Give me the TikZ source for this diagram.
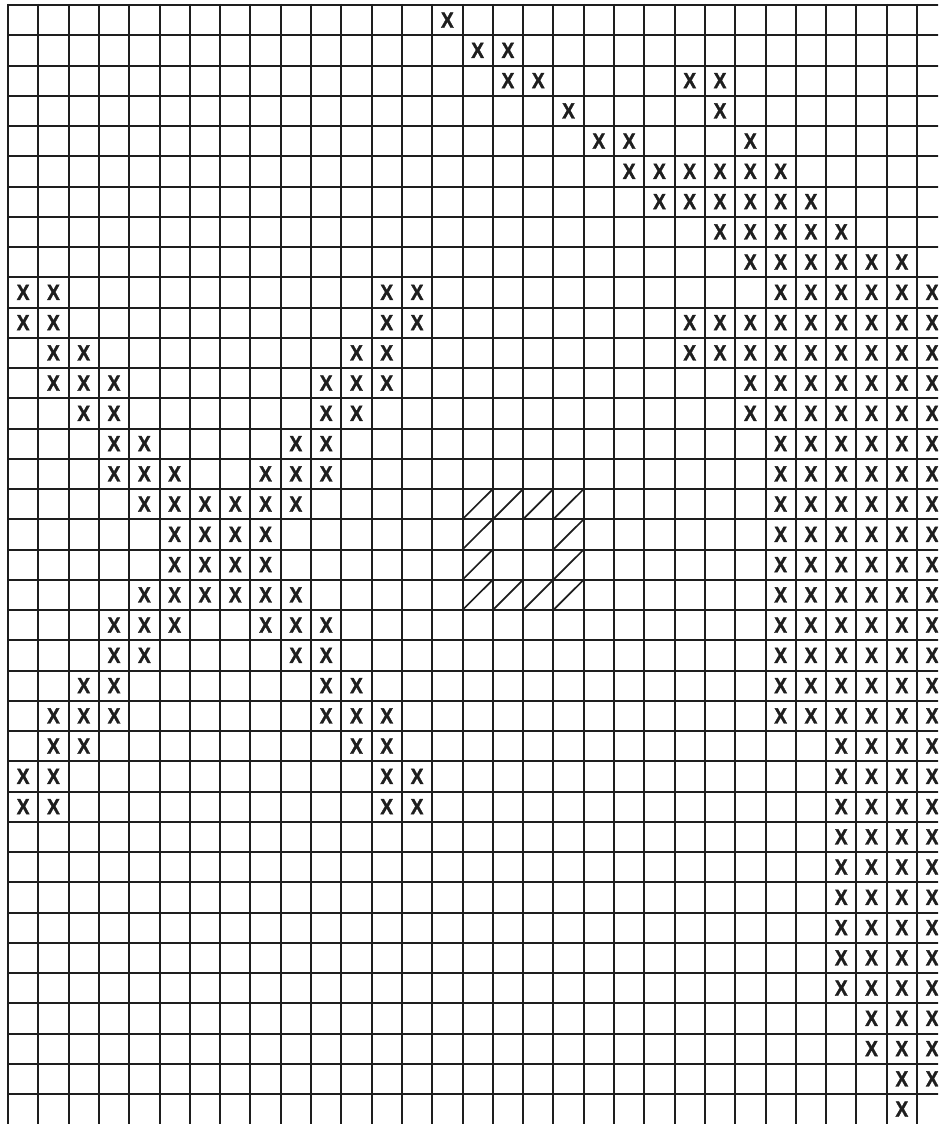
\documentclass[tikz,border=0pt]{standalone}
\usepackage{fontspec}
\newfontfamily\markfont{Liberation Sans Bold}[FakeBold=1.6]
\definecolor{ink}{HTML}{1E1E1E}
\begin{document}
\begin{tikzpicture}[x=1pt,y=-1pt,
  gridline/.style={draw=ink,line width=2pt},
  hatchline/.style={draw=ink,line width=1.7pt},
  xmark/.style={anchor=base,inner sep=0pt,text=ink,font=\markfont\fontsize{22}{22}\selectfont,xscale=0.87}]
\useasboundingbox (0,0) rectangle (938,1124);
\clip (0,0) rectangle (938,1124);
\fill[white] (0,0) rectangle (938,1124);
% grid
\foreach \i in {0,...,30}
  \draw[gridline] ({round(8+30.3*\i)},4) -- ({round(8+30.3*\i)},1130);
\foreach \j in {0,...,36}
  \draw[gridline] (7,{round(5+30.25*\j)}) -- (945,{round(5+30.25*\j)});
% hatched block
\foreach \c/\r in {15/16,16/16,17/16,18/16,15/17,18/17,15/18,18/18,15/19,16/19,17/19,18/19}
  \draw[hatchline] ({8+30.3*\c},{5+30.25*(\r+1)}) -- ({8+30.3*(\c+1)},{5+30.25*\r});
% X marks
\foreach \r/\cols in {
  0/{14},
  1/{15,16},
  2/{16,17,22,23},
  3/{18,23},
  4/{19,20,24},
  5/{20,21,22,23,24,25},
  6/{21,22,23,24,25,26},
  7/{23,24,25,26,27},
  8/{24,25,26,27,28,29},
  9/{0,1,12,13,25,26,27,28,29,30},
  10/{0,1,12,13,22,23,24,25,26,27,28,29,30},
  11/{1,2,11,12,22,23,24,25,26,27,28,29,30},
  12/{1,2,3,10,11,12,24,25,26,27,28,29,30},
  13/{2,3,10,11,24,25,26,27,28,29,30},
  14/{3,4,9,10,25,26,27,28,29,30},
  15/{3,4,5,8,9,10,25,26,27,28,29,30},
  16/{4,5,6,7,8,9,25,26,27,28,29,30},
  17/{5,6,7,8,25,26,27,28,29,30},
  18/{5,6,7,8,25,26,27,28,29,30},
  19/{4,5,6,7,8,9,25,26,27,28,29,30},
  20/{3,4,5,8,9,10,25,26,27,28,29,30},
  21/{3,4,9,10,25,26,27,28,29,30},
  22/{2,3,10,11,25,26,27,28,29,30},
  23/{1,2,3,10,11,12,25,26,27,28,29,30},
  24/{1,2,11,12,27,28,29,30},
  25/{0,1,12,13,27,28,29,30},
  26/{0,1,12,13,27,28,29,30},
  27/{27,28,29,30},
  28/{27,28,29,30},
  29/{27,28,29,30},
  30/{27,28,29,30},
  31/{27,28,29,30},
  32/{27,28,29,30},
  33/{28,29,30},
  34/{28,29,30},
  35/{29,30},
  36/{29}}
  \foreach \c in \cols
    \node[xmark] (x-\r-\c) at ({8+30.3*(\c+0.5)},{5+30.25*(\r+0.5)+7.6}) {X};
\end{tikzpicture}
\end{document}
